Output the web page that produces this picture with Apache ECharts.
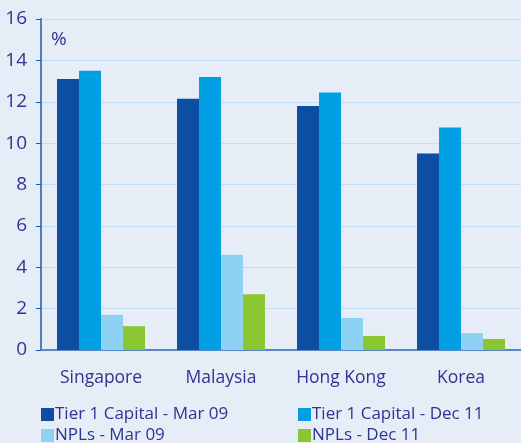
<!DOCTYPE html>
<html>
<head>
<meta charset="utf-8">
<script src="https://cdn.jsdelivr.net/npm/echarts@6/dist/echarts.min.js"></script>
<style>
  html, body { margin: 0; padding: 0; background: #e7edf7; }
  #chart { width: 521px; height: 443px; }
</style>
</head>
<body>
<div id="chart"></div>
<script>
  // categories and series values (%)
  const countries = ['Singapore', 'Malaysia', 'Hong Kong', 'Korea']
  const tier1Mar09 = [13.1, 12.15, 11.8, 9.5]
  const tier1Dec11 = [13.5, 13.2, 12.45, 10.75]
  const nplMar09 = [1.7, 4.6, 1.55, 0.82]
  const nplDec11 = [1.15, 2.7, 0.68, 0.53]
  const seriesNames = ['Tier 1 Capital - Mar 09', 'Tier 1 Capital - Dec 11', 'NPLs - Mar 09', 'NPLs - Dec 11']
  const colors = ['#0b4ea2', '#009fe3', '#8ed2f3', '#89c632']

  const textColor = '#2f3490'
  const fontFamily = 'Open Sans, sans-serif'

  let chart = echarts.init(document.getElementById('chart'))
  const values = [tier1Mar09, tier1Dec11, nplMar09, nplDec11]

  // one legend per item, laid out as a 2x2 block
  const legendPos = [[41, 406], [298, 406], [41, 427], [298, 427]]
  const legends = seriesNames.map((name, i) => ({
    left: legendPos[i][0],
    top: legendPos[i][1],
    padding: 0,
    itemWidth: 13,
    itemHeight: 13,
    icon: 'rect',
    textStyle: { color: textColor, fontSize: 17, fontFamily: fontFamily, padding: [0, 0, 0, -4] },
    data: [name]
  }))

  chart.setOption({
    backgroundColor: '#e7edf7',
    color: colors,
    animation: false,
    grid: { left: 41, right: 0, top: 19, bottom: 93 },
    graphic: [{
      type: 'text',
      left: 51,
      top: 30,
      style: { text: '%', fill: textColor, fontSize: 19, fontFamily: fontFamily }
    }],
    legend: legends,
    xAxis: {
      type: 'category',
      data: countries,
      axisLine: { lineStyle: { color: '#5a86c4', width: 2 } },
      axisTick: { length: 7, lineStyle: { color: '#1f57a8' } },
      axisLabel: { color: textColor, fontSize: 17.5, fontFamily: fontFamily, margin: 19 }
    },
    yAxis: {
      type: 'value',
      min: 0,
      max: 16,
      interval: 2,
      axisLine: { show: true, lineStyle: { color: '#4f80c2', width: 2 } },
      axisTick: { show: true, length: 5, lineStyle: { color: '#1f57a8' } },
      axisLabel: { color: textColor, fontSize: 19, fontFamily: fontFamily, margin: 14 },
      splitLine: { lineStyle: { color: '#bde0f6' } }
    },
    series: values.map((v, i) => ({
      name: seriesNames[i],
      type: 'bar',
      data: v,
      barGap: 0,
      barCategoryGap: '26.7%'
    }))
  })
</script>
</body>
</html>
